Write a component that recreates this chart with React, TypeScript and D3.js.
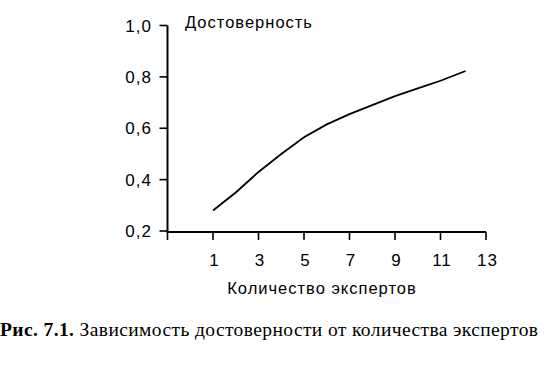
import React from "react";
import * as d3 from "d3";

const experts = [1, 2, 3, 4, 5, 6, 7, 8, 9, 10, 11, 12.1];
const reliability = [0.28, 0.35, 0.43, 0.5, 0.565, 0.615, 0.655, 0.69, 0.725, 0.755, 0.785, 0.823];
const xTicks = [-1, 1, 3, 5, 7, 9, 11, 13];
const yTicks = [0.2, 0.4, 0.6, 0.8, 1.0];
const yTitle = "Достоверность";
const xTitle = "Количество экспертов";
const captionBold = "Рис. 7.1.";
const captionText = " Зависимость достоверности от количества экспертов";

export default function App() {
  const W = 554, H = 382;
  const x = d3.scaleLinear().domain([-1, 13]).range([167.5, 486]);
  const y = d3.scaleLinear().domain([0.2, 1.0]).range([231, 25.5]);
  const line = d3.line<number>().x((_, i) => x(experts[i])).y((d) => y(d));
  const fmt = (v: number) => v.toFixed(1).replace(".", ",");
  const sans = "Liberation Sans, Arial, sans-serif";
  const serif = "Liberation Serif, Times New Roman, serif";
  return (
    <svg width={W} height={H} style={{ position: "absolute", left: 0, top: 0, background: "#fff" }}>
      {/* y axis */}
      <line x1={x(-1)} x2={x(-1)} y1={y(1.0)} y2={y(0.2) + 1} stroke="#000" strokeWidth={2} />
      {yTicks.map((t) => (
        <g key={t}>
          <line x1={x(-1) - 8} x2={x(-1)} y1={y(t)} y2={y(t)} stroke="#000" strokeWidth={1.6} />
          <text x={152} y={y(t) + 6} textAnchor="end" fontFamily={sans} fontSize={17} letterSpacing={1} fill="#000">
            {fmt(t)}
          </text>
        </g>
      ))}
      {/* x axis */}
      <line x1={x(-1) - 1} x2={x(13)} y1={y(0.2) + 1} y2={y(0.2) + 1} stroke="#000" strokeWidth={2} />
      {xTicks.map((t) => (
        <g key={t}>
          <line x1={x(t)} x2={x(t)} y1={y(0.2) + 1} y2={y(0.2) + 9} stroke="#000" strokeWidth={1.6} />
          {t > 0 && (
            <text x={x(t) + 1.5} y={265.5} textAnchor="middle" fontFamily={sans} fontSize={17} letterSpacing={1} fill="#000">
              {t}
            </text>
          )}
        </g>
      ))}
      <path d={line(reliability) ?? ""} fill="none" stroke="#000" strokeWidth={1.8} />
      <text x={185} y={27.5} fontFamily={sans} fontSize={16.5} letterSpacing={1} fill="#000">{yTitle}</text>
      <text x={322} y={294} textAnchor="middle" fontFamily={sans} fontSize={16.5} letterSpacing={1} fill="#000">{xTitle}</text>
      <text x={0} y={336} fontFamily={serif} fontSize={19.5} textLength={538} lengthAdjust="spacing" fill="#000">
        <tspan fontWeight="bold">{captionBold}</tspan>
        <tspan>{captionText}</tspan>
      </text>
    </svg>
  );
}
